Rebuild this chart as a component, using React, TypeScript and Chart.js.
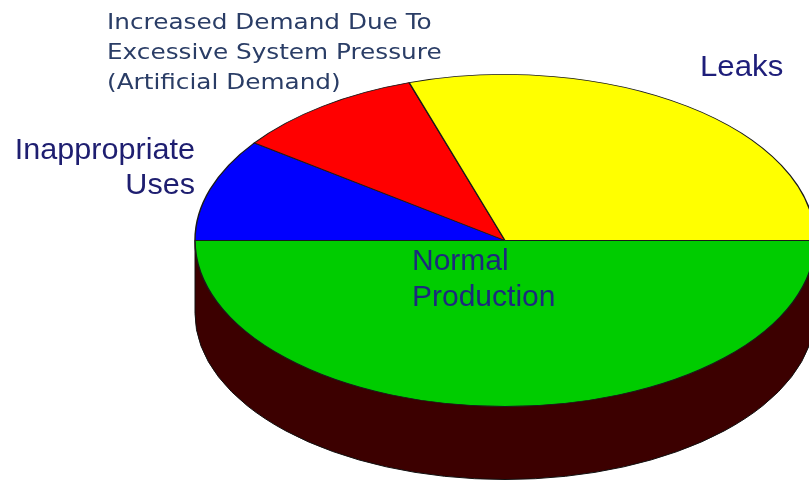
import React, { useEffect, useRef } from "react";
import { Chart, registerables } from "chart.js";

Chart.register(...registerables);

const categories = [
  "Normal Production",
  "Inappropriate Uses",
  "Increased Demand Due To Excessive System Pressure (Artificial Demand)",
  "Leaks",
];
const values = [50, 10, 10, 30];
const sliceColors = ["#00cc00", "#0000ff", "#ff0000", "#ffff00"];
const labelLines = [
  ["Normal", "Production"],
  ["Inappropriate", "Uses"],
  ["Increased Demand Due To", "Excessive System Pressure", "(Artificial Demand)"],
  ["Leaks"],
];

const SIDE = "#3c0000";
const DEPTH = 73;
const TILT = 166 / 310;

const pie3d = {
  id: "pie3d",
  beforeDatasetsDraw(chart: any) {
    const arcs = chart.getDatasetMeta(0).data;
    const ctx = chart.ctx;
    ctx.save();
    if (!arcs.length) return;
    const { x, y, outerRadius: R } = arcs[0];
    ctx.translate(x, y);
    ctx.scale(1, TILT);
    ctx.translate(-x, -y);
    const D = DEPTH / TILT;
    // side wall of the pie, built from the arc geometry
    ctx.beginPath();
    ctx.moveTo(x + R, y);
    ctx.lineTo(x + R, y + D);
    ctx.arc(x, y + D, R, 0, Math.PI, false);
    ctx.lineTo(x - R, y);
    ctx.closePath();
    ctx.fillStyle = SIDE;
    ctx.fill();
    ctx.beginPath();
    ctx.moveTo(x + R, y);
    ctx.lineTo(x + R, y + D);
    ctx.arc(x, y + D, R, 0, Math.PI, false);
    ctx.lineTo(x - R, y);
    ctx.save();
    ctx.setTransform(1, 0, 0, 1, 0, 0);
    ctx.strokeStyle = "#111111";
    ctx.lineWidth = 1;
    ctx.stroke();
    ctx.restore();
  },
  afterDatasetsDraw(chart: any) {
    chart.ctx.restore();
  },
};

function drawLines(
  ctx: CanvasRenderingContext2D,
  lines: string[],
  x: number,
  y0: number,
  lh: number,
  font: string,
  color: string,
  align: CanvasTextAlign,
  sx: number
) {
  ctx.save();
  ctx.font = font;
  ctx.fillStyle = color;
  ctx.textAlign = align;
  ctx.textBaseline = "alphabetic";
  lines.forEach((l, i) => {
    ctx.save();
    ctx.translate(x, y0 + i * lh);
    ctx.scale(sx, 1);
    ctx.fillText(l, 0, 0);
    ctx.restore();
  });
  ctx.restore();
}

const labelsPlugin = {
  id: "sliceLabels",
  afterDraw(chart: any) {
    const ctx = chart.ctx;
    const arial = '"Liberation Sans", Arial, sans-serif';
    drawLines(ctx, labelLines[0], 412, 270, 36, `30px ${arial}`, "#1c2a7c", "left", 1);
    drawLines(ctx, labelLines[1], 195, 159, 35, `30px ${arial}`, "#1e1e70", "right", 1.02);
    drawLines(ctx, labelLines[2], 107, 29, 30, '21.5px "DejaVu Sans", Verdana, sans-serif', "#2a3d66", "left", 1.15);
    drawLines(ctx, labelLines[3], 700, 76, 30, `30px ${arial}`, "#1e1e7a", "left", 1.04);
  },
};

export default function App() {
  const ref = useRef<HTMLCanvasElement | null>(null);
  useEffect(() => {
    if (!ref.current) return;
    const chart = new Chart(ref.current, {
      type: "pie",
      data: {
        labels: categories,
        datasets: [
          {
            data: values,
            backgroundColor: sliceColors,
            borderColor: "#1a1a1a",
            borderWidth: 1.5,
            radius: 310,
            clip: false,
          } as any,
        ],
      },
      options: {
        animation: false,
        responsive: false,
        rotation: 90,
        layout: { padding: { left: 201, right: 0, top: 0, bottom: 0 } },
        plugins: {
          legend: { display: false },
          tooltip: { enabled: false },
          title: { display: false },
        },
        events: [],
      } as any,
      plugins: [pie3d, labelsPlugin],
    });
    return () => chart.destroy();
  }, []);
  return (
    <div style={{ position: "absolute", left: 0, top: 0, width: 809, height: 481, overflow: "hidden", background: "#ffffff" }}>
      <canvas ref={ref} width={809} height={481} style={{ display: "block" }} />
    </div>
  );
}
